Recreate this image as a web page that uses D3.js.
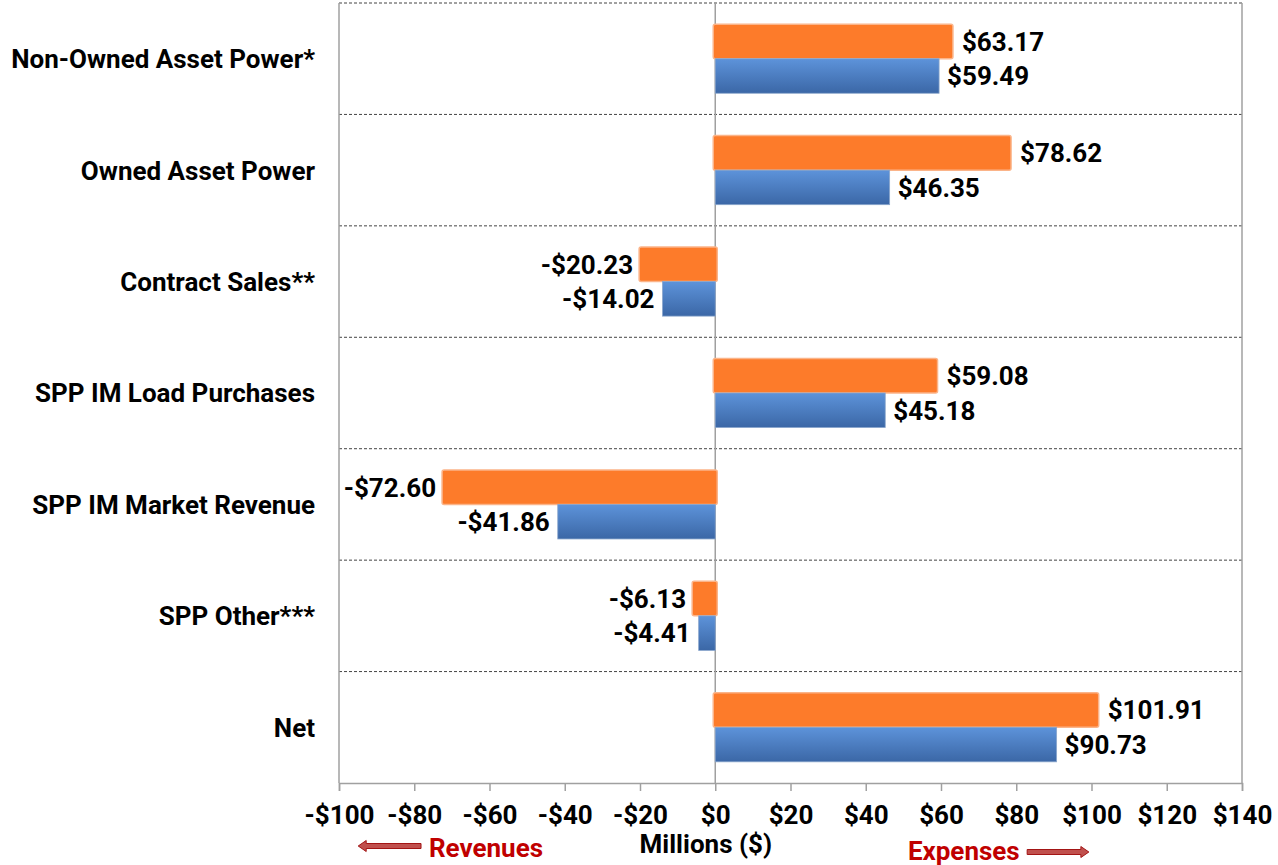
<!DOCTYPE html>
<html>
<head>
<meta charset="utf-8">
<script src="https://cdn.jsdelivr.net/npm/d3@7"></script>
<style>
  body { margin: 0; background: #fff; }
  text { font-family: Roboto, "Liberation Sans", sans-serif; font-weight: bold; }
</style>
</head>
<body>
<div id="viz"></div>
<script>
const categories = ['Non-Owned Asset Power*', 'Owned Asset Power', 'Contract Sales**',
  'SPP IM Load Purchases', 'SPP IM Market Revenue', 'SPP Other***', 'Net']
const orangeValues = [63.17, 78.62, -20.23, 59.08, -72.60, -6.13, 101.91]
const blueValues = [59.49, 46.35, -14.02, 45.18, -41.86, -4.41, 90.73]
const tickValues = [-100, -80, -60, -40, -20, 0, 20, 40, 60, 80, 100, 120, 140]

let dimensions = {
  width: 1278,
  height: 865,
  margin: { top: 3, right: 36, bottom: 82, left: 339 },
}
dimensions.boundedWidth = dimensions.width - dimensions.margin.left - dimensions.margin.right
dimensions.boundedHeight = dimensions.height - dimensions.margin.top - dimensions.margin.bottom

const fmt = v => (v < 0 ? '-$' : '$') + Math.abs(v).toFixed(2)
const fontSize = 26

const wrapper = d3.select('#viz')
  .append('svg')
  .attr('width', dimensions.width)
  .attr('height', dimensions.height)

const defs = wrapper.append('defs')
const grad = defs.append('linearGradient')
  .attr('id', 'blueGrad')
  .attr('x1', 0).attr('y1', 0).attr('x2', 0).attr('y2', 1)
grad.append('stop').attr('offset', '0%').attr('stop-color', '#5d93da')
grad.append('stop').attr('offset', '100%').attr('stop-color', '#3b67a6')

const chart = wrapper.append('g')
  .attr('transform', `translate(${dimensions.margin.left},${dimensions.margin.top})`)

// scales
const xScale = d3.scaleLinear()
  .domain([-100, 140])
  .range([0, dimensions.boundedWidth])

const yScale = d3.scaleBand()
  .domain(categories)
  .range([0, dimensions.boundedHeight])
  .paddingInner(0)
  .paddingOuter(0)

const barPad = 0.19
const barH = yScale.bandwidth() * (1 - 2 * barPad) / 2

// row separators
chart.selectAll('line.sep')
  .data(categories)
  .join('line')
  .attr('class', 'sep')
  .attr('x1', 0)
  .attr('x2', dimensions.boundedWidth)
  .attr('y1', d => yScale(d))
  .attr('y2', d => yScale(d))
  .attr('stroke', '#444')
  .attr('stroke-width', 1)
  .attr('stroke-dasharray', '3,2')

// frame sides
chart.append('line')
  .attr('x1', 0).attr('x2', 0).attr('y1', 0).attr('y2', dimensions.boundedHeight)
  .attr('stroke', '#a0a0a0').attr('stroke-width', 1.5)
chart.append('line')
  .attr('x1', dimensions.boundedWidth).attr('x2', dimensions.boundedWidth)
  .attr('y1', 0).attr('y2', dimensions.boundedHeight)
  .attr('stroke', '#a0a0a0').attr('stroke-width', 1.5)

// zero line
chart.append('line')
  .attr('x1', xScale(0)).attr('x2', xScale(0))
  .attr('y1', 0).attr('y2', dimensions.boundedHeight)
  .attr('stroke', '#a0a0a0').attr('stroke-width', 1.5)

// bars
const rows = categories.map((c, i) => ({ cat: c, orange: orangeValues[i], blue: blueValues[i] }))

chart.selectAll('rect.orange')
  .data(rows)
  .join('rect')
  .attr('class', 'orange')
  .attr('x', d => xScale(Math.min(0, d.orange)) - (d.orange > 0 ? 2 : 0))
  .attr('y', d => yScale(d.cat) + yScale.bandwidth() * barPad)
  .attr('width', d => Math.abs(xScale(d.orange) - xScale(0)) + 2)
  .attr('height', barH)
  .attr('rx', 2)
  .attr('fill', '#fd7b2a')
  .attr('stroke', '#fbb489')
  .attr('stroke-width', 1.5)

chart.selectAll('rect.blue')
  .data(rows)
  .join('rect')
  .attr('class', 'blue')
  .attr('x', d => xScale(Math.min(0, d.blue)))
  .attr('y', d => yScale(d.cat) + yScale.bandwidth() * barPad + barH)
  .attr('width', d => Math.abs(xScale(d.blue) - xScale(0)))
  .attr('height', barH)
  .attr('fill', 'url(#blueGrad)')
  .attr('stroke', '#8aa6cc')
  .attr('stroke-width', 0.8)

// value labels
chart.selectAll('text.lo')
  .data(rows)
  .join('text')
  .attr('class', 'lo')
  .attr('x', d => xScale(d.orange) + (d.orange < 0 ? -6 : 9))
  .attr('y', d => yScale(d.cat) + yScale.bandwidth() * barPad + barH / 2)
  .attr('dy', '0.36em')
  .attr('text-anchor', d => d.orange < 0 ? 'end' : 'start')
  .style('font-size', fontSize + 'px')
  .text(d => fmt(d.orange))

chart.selectAll('text.lb')
  .data(rows)
  .join('text')
  .attr('class', 'lb')
  .attr('x', d => xScale(d.blue) + (d.blue < 0 ? -8 : 8))
  .attr('y', d => yScale(d.cat) + yScale.bandwidth() * barPad + barH * 1.5)
  .attr('dy', '0.36em')
  .attr('text-anchor', d => d.blue < 0 ? 'end' : 'start')
  .style('font-size', fontSize + 'px')
  .text(d => fmt(d.blue))

// category labels
chart.selectAll('text.cat')
  .data(categories)
  .join('text')
  .attr('class', 'cat')
  .attr('x', -24)
  .attr('y', d => yScale(d) + yScale.bandwidth() / 2)
  .attr('dy', '0.36em')
  .attr('text-anchor', 'end')
  .style('font-size', fontSize + 'px')
  .text(d => d)

// x axis
const xAxisGenerator = d3.axisBottom(xScale)
  .tickValues(tickValues)
  .tickSize(8)
  .tickPadding(15)
  .tickFormat(d => (d < 0 ? '-$' : '$') + Math.abs(d))

const xAxis = chart.append('g')
  .attr('transform', `translate(0,${dimensions.boundedHeight})`)
  .call(xAxisGenerator)
xAxis.select('.domain').attr('stroke', '#a0a0a0').attr('stroke-width', 1.5)
xAxis.selectAll('.tick line').attr('stroke', '#a0a0a0').attr('stroke-width', 1.5)
xAxis.selectAll('.tick text')
  .style('font-size', fontSize + 'px')
  .style('font-family', 'Roboto, sans-serif')
  .style('font-weight', 'bold')
  .attr('fill', '#000')

xAxis.append('text')
  .attr('x', xScale(-2.5))
  .attr('y', 70)
  .attr('text-anchor', 'middle')
  .attr('fill', '#000')
  .style('font-size', fontSize + 'px')
  .text('Millions ($)')

// direction hints
const red = '#c00000'
xAxis.append('text')
  .attr('x', xScale(-76.1))
  .attr('y', 74)
  .attr('text-anchor', 'start')
  .attr('fill', red)
  .style('font-size', fontSize + 'px')
  .text('Revenues')

xAxis.append('text')
  .attr('x', xScale(51.2))
  .attr('y', 77)
  .attr('text-anchor', 'start')
  .attr('fill', red)
  .style('font-size', fontSize + 'px')
  .text('Expenses')

function arrow(x0, x1, y, dir) {
  const h = 2.5, hh = 5.5, head = 8
  if (dir > 0) {
    return `M${x0},${y - h}L${x1 - head},${y - h}L${x1 - head},${y - hh}L${x1},${y}` +
      `L${x1 - head},${y + hh}L${x1 - head},${y + h}L${x0},${y + h}Z`
  }
  return `M${x1},${y - h}L${x0 + head},${y - h}L${x0 + head},${y - hh}L${x0},${y}` +
    `L${x0 + head},${y + hh}L${x0 + head},${y + h}L${x1},${y + h}Z`
}

xAxis.append('path')
  .attr('d', arrow(xScale(-94.9), xScale(-78.2), 63, -1))
  .attr('fill', '#c0504d')
  .attr('stroke', '#a31515')
  .attr('stroke-width', 1)

xAxis.append('path')
  .attr('d', arrow(xScale(82.9), xScale(99.3), 69, 1))
  .attr('fill', '#c0504d')
  .attr('stroke', '#a31515')
  .attr('stroke-width', 1)
</script>
</body>
</html>
